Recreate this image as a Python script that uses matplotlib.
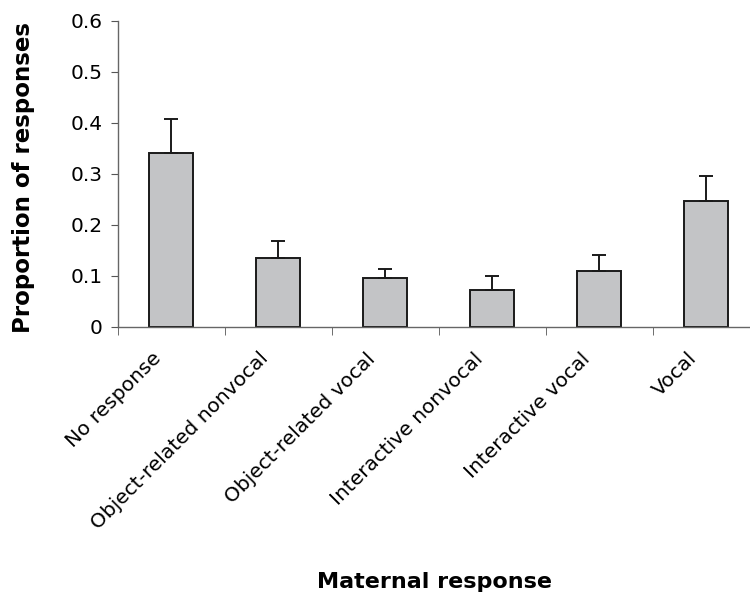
#!/usr/bin/env python3
# -*- coding: utf-8 -*-
"""
Proportion of responses by maternal response type (bar chart with upper error bars).
"""

import numpy as np
import matplotlib
matplotlib.use("Agg")
import matplotlib.pyplot as plt

### data
categories = ["No response", "Object-related nonvocal", "Object-related vocal",
              "Interactive nonvocal", "Interactive vocal", "Vocal"]
means = [0.341, 0.134, 0.096, 0.073, 0.109, 0.246]
upper_err = [0.066, 0.035, 0.017, 0.026, 0.032, 0.050]

### rcParams
plt.rcParams['font.family'] = ['DejaVu Sans']
plt.rcParams['font.size'] = 14.5

fig = plt.figure(figsize=(7.5, 5.92), dpi=100)
ax = fig.add_axes([0.157, 0.448, 0.856, 0.517])

x = np.arange(len(categories))
yerr = [np.zeros(len(means)), upper_err]
ax.bar(x, means, width=0.41, color='#c3c4c6', edgecolor='#1a1a1a', linewidth=1.4,
       yerr=yerr, error_kw=dict(ecolor='#1a1a1a', elinewidth=1.4, capsize=4.8, capthick=1.4))

# axes range
ax.set_xlim(-0.5, len(categories) - 0.5)
ax.set_ylim(0, 0.6)
ax.set_yticks(np.arange(0, 0.61, 0.1))
ax.set_yticklabels(['0', '0.1', '0.2', '0.3', '0.4', '0.5', '0.6'])

# category labels (nudged left like the original), tick marks at boundaries
ax.set_xticks(x - 0.18)
ax.set_xticklabels(categories, rotation=45, ha='right', rotation_mode='anchor')
ax.set_xticks(np.arange(-0.5, len(categories), 1.0), minor=True)
ax.tick_params(axis='x', which='major', length=0, pad=16)
ax.tick_params(axis='x', which='minor', length=6, direction='out', color='#555555')
ax.tick_params(axis='y', length=5, direction='out', color='#555555', pad=6)

for side in ['top', 'right']:
    ax.spines[side].set_visible(False)
for side in ['left', 'bottom']:
    ax.spines[side].set_color('#666666')
    ax.spines[side].set_linewidth(1.0)

# axis titles
fig.text(0.031, 0.70, 'Proportion of responses', fontsize=16.5, fontweight='bold',
         rotation=90, ha='center', va='center')
fig.text(0.579, 0.0068, 'Maternal response', fontsize=16, fontweight='bold',
         ha='center', va='baseline')

fig.savefig('out.png', dpi=100)
plt.close()
